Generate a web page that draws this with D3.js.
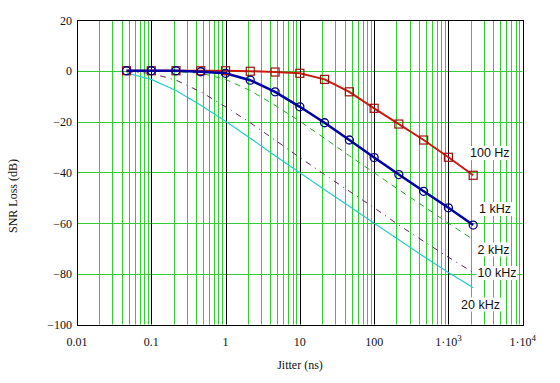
<!DOCTYPE html>
<html><head><meta charset="utf-8">
<script src="https://cdn.jsdelivr.net/npm/d3@7"></script>
<style>body{margin:0;background:#fff}svg{display:block}</style>
</head><body><svg id="c" width="560" height="383"></svg>
<script>
const jitter = [0.0464,0.1,0.215,0.464,1,2.15,4.64,10,21.5,46.4,100,215,464,1000,2154];
const loss100Hz = [0,0,0,0,0,-0.2,-0.5,-1.0,-3.4,-8.3,-14.8,-21.0,-27.3,-34.1,-41.2];
const loss1kHz  = [0,0,0,-0.4,-1.0,-3.7,-8.3,-14.2,-20.5,-27.3,-34.2,-40.9,-47.5,-54.0,-60.8];
const loss2kHz  = [0,0,-0.35,-0.95,-3.4,-7.8,-13.6,-19.9,-26.6,-33.5,-40.2,-46.9,-53.4,-60.1,-66.5];
const loss10kHz = [-0.4,-1.0,-3.7,-8.3,-14.2,-20.5,-27.3,-34.2,-40.9,-47.5,-54.0,-60.8,-67.2,-73.5,-79.5];
const loss20kHz = [-0.9,-3.4,-7.8,-13.6,-19.9,-26.6,-33.5,-40.2,-46.9,-53.4,-60.1,-66.6,-73.2,-79.5,-85.5];
const yTicks = [20,0,-20,-40,-60,-80,-100];
const xTicks = [0.01,0.1,1,10,100,1000,10000];
const xTickLabels = ["0.01","0.1","1","10","100","1·10|3","1·10|4"];
const seriesLabels = ["100 Hz","1 kHz","2 kHz","10 kHz","20 kHz"];

const svg = d3.select("#c");
const x = d3.scaleLog().domain([0.01,1e4]).range([77,522.7]);
const y = d3.scaleLinear().domain([-100,20]).range([324.5,20]);
const px = v => Math.round(x(v)) + 0.5;
const py = v => Math.round(y(v)) + 0.5;

const grid = svg.append("g");
// vertical minor grid lines
const minors = [];
for (let d = -2; d < 4; d++) for (let m = 2; m <= 9; m++) minors.push(m * Math.pow(10, d));
grid.selectAll("line.vm").data(minors).enter().append("line")
  .attr("x1", d => px(d)).attr("x2", d => px(d)).attr("y1", y(20)).attr("y2", y(-100))
  .attr("stroke", "#33cc33").attr("stroke-width", 1);
// horizontal grid
grid.selectAll("line.h").data(yTicks.filter(t => t > -100 && t < 20)).enter().append("line")
  .attr("x1", x(0.01)).attr("x2", x(1e4)).attr("y1", d => py(d)).attr("y2", d => py(d))
  .attr("stroke", "#33cc33").attr("stroke-width", 1);
// decade lines
grid.selectAll("line.dec").data(xTicks.slice(1, -1)).enter().append("line")
  .attr("x1", d => px(d)).attr("x2", d => px(d)).attr("y1", y(20)).attr("y2", y(-100))
  .attr("stroke", "#000").attr("stroke-width", 1);
// frame
svg.append("rect").attr("x", px(0.01)).attr("y", py(20))
  .attr("width", px(1e4) - px(0.01)).attr("height", py(-100) - py(20))
  .attr("fill", "none").attr("stroke", "#000").attr("stroke-width", 1);

const line = d3.line().x((d, i) => x(jitter[i])).y(d => y(d));

svg.append("path").datum(loss20kHz).attr("d", line).attr("fill", "none")
  .attr("stroke", "#22cccc").attr("stroke-width", 1.1);
svg.append("path").datum(loss10kHz).attr("d", line).attr("fill", "none")
  .attr("stroke", "#602060").attr("stroke-width", 1).attr("stroke-dasharray", "6,5,1,5");
svg.append("path").datum(loss2kHz).attr("d", line).attr("fill", "none")
  .attr("stroke", "#22aa22").attr("stroke-width", 1).attr("stroke-dasharray", "6,5");
svg.append("path").datum(loss100Hz).attr("d", line).attr("fill", "none")
  .attr("stroke", "#cc1a10").attr("stroke-width", 2);
svg.append("path").datum(loss1kHz).attr("d", line).attr("fill", "none")
  .attr("stroke", "#0000a8").attr("stroke-width", 2.6);

svg.selectAll("rect.sq").data(loss100Hz).enter().append("rect")
  .attr("x", (d, i) => x(jitter[i]) - 4).attr("y", d => y(d) - 4)
  .attr("width", 8).attr("height", 8).attr("fill", "none")
  .attr("stroke", "#a01010").attr("stroke-width", 1.2);
svg.selectAll("circle.ci").data(loss1kHz).enter().append("circle")
  .attr("cx", (d, i) => x(jitter[i])).attr("cy", d => y(d)).attr("r", 4)
  .attr("fill", "none").attr("stroke", "#000080").attr("stroke-width", 1.3);

// y tick labels
svg.selectAll("text.yt").data(yTicks).enter().append("text")
  .attr("x", 72).attr("y", d => y(d) + 4.5).attr("text-anchor", "end")
  .attr("font-family", "Liberation Serif, serif").attr("font-size", 12).attr("fill", "#111")
  .text(d => d < 0 ? "\u2212" + Math.abs(d) : String(d));
// x tick labels
xTicks.forEach((t, i) => {
  const parts = xTickLabels[i].split("|");
  const tx = svg.append("text").attr("x", x(t)).attr("y", 346).attr("text-anchor", "middle")
    .attr("font-family", "Liberation Serif, serif").attr("font-size", 12).attr("fill", "#111");
  tx.append("tspan").text(parts[0]);
  if (parts[1]) tx.append("tspan").attr("dy", -5).attr("font-size", 9).text(parts[1]);
});
svg.append("text").attr("x", 300).attr("y", 369).attr("text-anchor", "middle")
  .attr("font-family", "Liberation Serif, serif").attr("font-size", 12).attr("fill", "#111")
  .text("Jitter (ns)");
svg.append("text").attr("transform", "translate(17,196) rotate(-90)").attr("text-anchor", "middle")
  .attr("font-family", "Liberation Serif, serif").attr("font-size", 12).attr("fill", "#111")
  .text("SNR Loss (dB)");

// series labels
const labelPos = [[470,152.5],[479,208.5],[477.5,249],[477.5,272.5],[461,304]];
seriesLabels.forEach((s, i) => {
  const g = svg.append("g");
  const t = g.append("text").attr("x", labelPos[i][0]).attr("y", labelPos[i][1] + 4.5)
    .attr("font-family", "Liberation Sans, Arial, sans-serif").attr("font-size", 12.5).attr("fill", "#111")
    .text(s);
  const bb = t.node().getBBox();
  g.insert("rect", "text").attr("x", bb.x - 1).attr("y", bb.y).attr("width", bb.width + 2)
    .attr("height", bb.height).attr("fill", "#fff");
});
</script></body></html>
